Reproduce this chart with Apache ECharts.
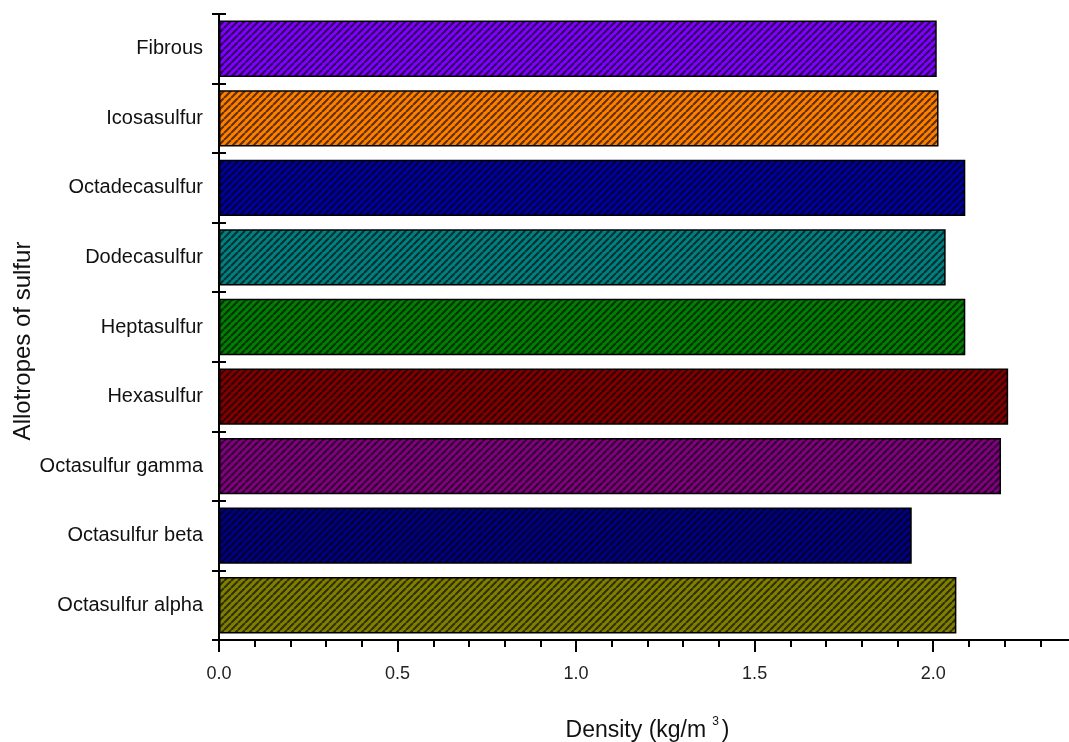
<!DOCTYPE html>
<html>
<head>
<meta charset="utf-8">
<script src="https://cdn.jsdelivr.net/npm/echarts@6/dist/echarts.min.js"></script>
<style>
  html, body { margin: 0; padding: 0; background: #fff; }
  #main { width: 1069px; height: 742px; }
</style>
</head>
<body>
<div id="main"></div>
<script>
    // categories top to bottom
    var allotropes = ['Fibrous', 'Icosasulfur', 'Octadecasulfur', 'Dodecasulfur', 'Heptasulfur',
        'Hexasulfur', 'Octasulfur gamma', 'Octasulfur beta', 'Octasulfur alpha'];
    var density = [2.01, 2.015, 2.09, 2.035, 2.09, 2.21, 2.19, 1.94, 2.065];
    var barColors = ['#8000FF', '#FF8000', '#0000A0', '#008080', '#008000',
        '#800000', '#800080', '#000080', '#808000'];

    /*斜线填充*/
    function hatch(color) {
        var s = 7;
        var c = document.createElement('canvas');
        c.width = s; c.height = s;
        var ctx = c.getContext('2d');
        ctx.fillStyle = color;
        ctx.fillRect(0, 0, s, s);
        ctx.strokeStyle = 'rgba(0,0,0,0.62)';
        ctx.lineWidth = 2.2;
        ctx.beginPath();
        [-s, 0, s].forEach(function (k) {
            ctx.moveTo(k, s);
            ctx.lineTo(k + s, 0);
        });
        ctx.stroke();
        return {image: c, repeat: 'repeat'};
    }

    var font = '"Liberation Sans", Arial, sans-serif';
    var myChart = echarts.init(document.getElementById('main'));
    var option = {
        animation: false,
        grid: {left: 219, top: 14, bottom: 102, right: -7, containLabel: false, outerBoundsMode: 'none'},
        xAxis: [{
            type: 'value',
            min: 0,
            max: 2.4,
            interval: 0.5,
            splitLine: {show: false},
            axisLine: {show: true, lineStyle: {color: '#000', width: 2}},
            axisTick: {show: true, inside: false, length: 12, lineStyle: {color: '#000', width: 2}},
            axisLabel: {
                color: '#222', fontSize: 18, fontFamily: font, margin: 25,
                showMaxLabel: false,
                formatter: function (v) { return v.toFixed(1); }
            },
            name: 'Density (kg/m{s|3})',
            nameLocation: 'middle',
            nameGap: 76,
            nameMoveOverlap: false,
            nameTextStyle: {
                color: '#111', fontSize: 23, fontFamily: font,
                rich: {s: {fontSize: 12, fontFamily: font, color: '#111', verticalAlign: 'top', padding: [0, 3, 18, 6]}}
            }
        }, {
            type: 'value',
            min: 0,
            max: 2.4,
            interval: 0.1,
            position: 'bottom',
            offset: 0,
            splitLine: {show: false},
            axisLine: {show: false},
            axisTick: {show: true, inside: false, length: 7, lineStyle: {color: '#000', width: 2}},
            axisLabel: {show: false}
        }],
        yAxis: [{
            type: 'category',
            data: allotropes,
            inverse: true,
            position: 'left',
            offset: 0,
            axisLine: {show: true, lineStyle: {color: '#000', width: 2}},
            axisTick: {show: true, inside: false, length: 7, lineStyle: {color: '#000', width: 2}},
            axisLabel: {color: '#111', fontSize: 20, fontFamily: font, margin: 16},
            name: 'Allotropes of sulfur',
            nameLocation: 'middle',
            nameGap: 184,
            nameMoveOverlap: false,
            nameTextStyle: {color: '#111', fontSize: 24, fontFamily: font, padding: [0, 28, 0, 0]}
        }, {
            type: 'category',
            data: allotropes,
            inverse: true,
            position: 'left',
            offset: 0,
            axisLine: {show: false},
            axisTick: {show: true, inside: true, length: 7, lineStyle: {color: '#000', width: 2}},
            axisLabel: {show: false}
        }],
        series: [{
            type: 'bar',
            xAxisIndex: 0,
            yAxisIndex: 0,
            barWidth: '81%',
            data: density.map(function (v, i) {
                return {
                    value: v,
                    itemStyle: {color: hatch(barColors[i]), borderColor: '#000', borderWidth: 1.5}
                };
            })
        }]
    };
    myChart.setOption(option);
</script>
</body>
</html>
